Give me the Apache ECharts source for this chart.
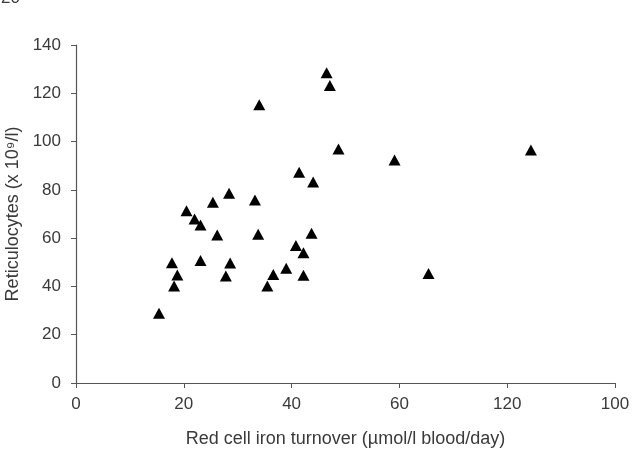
<!DOCTYPE html>
<html>
<head>
<meta charset="utf-8">
<script src="https://cdn.jsdelivr.net/npm/echarts@6/dist/echarts.min.js"></script>
<style>
  html, body { margin: 0; padding: 0; background: #fff; }
  #chart { width: 643px; height: 449px; }
</style>
</head>
<body>
<div id="chart"></div>
<script>
// red cell iron turnover (x) vs reticulocytes (y)
var turnover = [46.5, 47.1, 34.0, 48.7, 41.4, 44.0, 28.4, 33.2, 25.4, 20.5,
  22.0, 23.1, 26.2, 33.8, 43.7, 40.8, 42.2, 17.8, 23.1, 28.6,
  39.0, 18.8, 27.8, 36.6, 42.2, 18.2, 35.5, 15.4, 84.4, 59.1, 65.4];
var reticulocytes = [128.5, 123.2, 115.2, 96.9, 87.3, 83.3, 78.6, 75.8, 74.9, 71.3,
  67.9, 65.4, 61.3, 61.6, 62.0, 57.0, 53.9, 49.8, 50.7, 49.7,
  47.5, 44.7, 44.3, 44.9, 44.6, 40.2, 40.2, 28.9, 96.5, 92.4, 45.4];
// tick labels exactly as printed on the original axis
var xTickLabels = ['0', '20', '40', '60', '120', '100'];

var points = turnover.map(function(x, i) { return [x, reticulocytes[i]]; });

var axisColor = '#555';
var textColor = '#3a3a3a';
var font = 'Liberation Sans, Arial, sans-serif';

var chart = echarts.init(document.getElementById('chart'));
chart.setOption({
  backgroundColor: '#fff',
  animation: false,
  graphic: [{
    type: 'text', left: 1, top: -10,
    style: { text: '20', fontSize: 17, fontFamily: font, fill: textColor }
  }],
  grid: { left: 76, right: 28, top: 45, bottom: 66, outerBoundsMode: 'none', containLabel: false },
  xAxis: {
    type: 'value', min: 0, max: 100, interval: 20,
    name: 'Red cell iron turnover (µmol/l blood/day)',
    nameLocation: 'middle', nameGap: 47,
    nameTextStyle: { color: textColor, fontSize: 18, fontFamily: font },
    axisLine: { lineStyle: { color: axisColor, width: 1.2 } },
    axisTick: { show: true, length: 5, lineStyle: { color: axisColor } },
    axisLabel: {
      color: textColor, fontSize: 17, fontFamily: font, margin: 13,
      formatter: function(v) { return xTickLabels[Math.round(v / 20)]; }
    },
    splitLine: { show: false }
  },
  yAxis: {
    type: 'value', min: 0, max: 140, interval: 20,
    name: 'Reticulocytes (x 10⁹/l)',
    nameLocation: 'middle', nameGap: 52, nameRotate: 90,
    nameTextStyle: { color: textColor, fontSize: 18, fontFamily: font },
    axisLine: { show: true, lineStyle: { color: axisColor, width: 1.2 } },
    axisTick: { show: true, length: 5, lineStyle: { color: axisColor } },
    axisLabel: { color: textColor, fontSize: 17, fontFamily: font, margin: 15 },
    splitLine: { show: false }
  },
  series: [{
    type: 'scatter',
    symbol: 'triangle',
    symbolSize: [12, 11],
    itemStyle: { color: '#000', opacity: 1 },
    data: points
  }]
});
</script>
</body>
</html>
